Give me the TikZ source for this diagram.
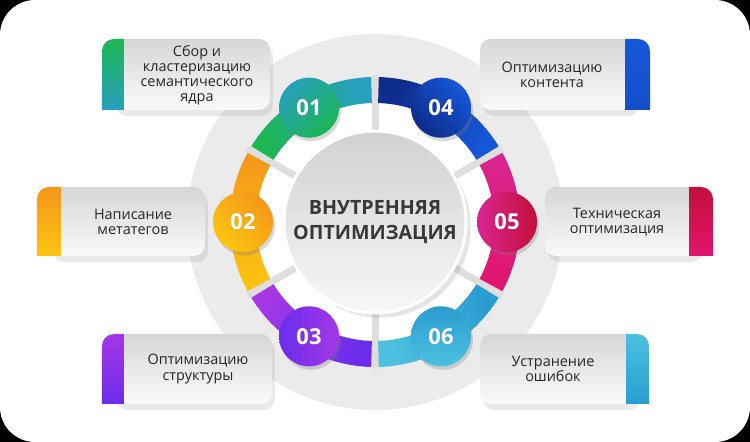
\documentclass[tikz,border=0pt]{standalone}
\usepackage{fontspec}
\setmainfont{Open Sans}
\usetikzlibrary{shadows}

\definecolor{grnA}{HTML}{1CB653}
\definecolor{tealA}{HTML}{26A0BC}
\definecolor{orgA}{HTML}{F4971A}
\definecolor{yelA}{HTML}{FBC510}
\definecolor{purA}{HTML}{A537E6}
\definecolor{vioA}{HTML}{6B2DEB}
\definecolor{bluA}{HTML}{1657DA}
\definecolor{navA}{HTML}{0E2C8A}
\definecolor{pnkA}{HTML}{E0156F}
\definecolor{magA}{HTML}{D9268F}
\definecolor{crmA}{HTML}{C40F3A}
\definecolor{cyaA}{HTML}{4CC0DF}
\definecolor{cyaB}{HTML}{2A9DD0}
\definecolor{txtA}{HTML}{262626}

\begin{document}
\begin{tikzpicture}
		[x=0.02cm, y=0.02cm,
		bubble/.style ={drop shadow={opacity=0.3, shadow xshift=0.4mm, shadow yshift=-0.7mm}},
		card/.style ={rounded corners=0.22cm, top color=black!16, bottom color=black!2, drop shadow={opacity=0.16, shadow xshift=0.6mm, shadow yshift=-1.2mm}},
		num/.style ={font=\fontsize{12.5}{13}\bfseries\selectfont, text=white},
		caption/.style ={align=center, font=\fontsize{8.2}{8.6}\selectfont, text=txtA},
		title/.style ={align=center, font=\fontsize{11.2}{14}\bfseries\selectfont, text=black!78},
		]

		% background
		\fill[black] (-375,-220) rectangle (375,222);
		\fill[white, rounded corners=0.7cm] (-375,-220) rectangle (375,222);
		\fill[black!8] (0,0) circle (188);
		\fill[white, drop shadow={opacity=0.1}] (0,0) circle (121);
		\foreach \d in {30,90,...,330}
			\draw[black!13, line width=0.14cm] (\d:86) -- (\d:147);

		% ring
		\shade[top color=tealA, bottom color=grnA, shading angle=-60] (91.5:145) arc[start angle=91.5, end angle=148.5, radius=145] -- (148.5:119) arc[start angle=148.5, end angle=91.5, radius=119] -- cycle;
		\shade[top color=orgA, bottom color=yelA, shading angle=0] (151.5:145) arc[start angle=151.5, end angle=208.5, radius=145] -- (208.5:119) arc[start angle=208.5, end angle=151.5, radius=119] -- cycle;
		\shade[top color=purA, bottom color=vioA, shading angle=60] (211.5:145) arc[start angle=211.5, end angle=268.5, radius=145] -- (268.5:119) arc[start angle=268.5, end angle=211.5, radius=119] -- cycle;
		\shade[top color=bluA, bottom color=navA, shading angle=-120] (31.5:145) arc[start angle=31.5, end angle=88.5, radius=145] -- (88.5:119) arc[start angle=88.5, end angle=31.5, radius=119] -- cycle;
		\shade[top color=pnkA, bottom color=magA, shading angle=-180] (-28.5:145) arc[start angle=-28.5, end angle=28.5, radius=145] -- (28.5:119) arc[start angle=28.5, end angle=-28.5, radius=119] -- cycle;
		\shade[top color=cyaA, bottom color=cyaB, shading angle=-240] (-88.5:145) arc[start angle=-88.5, end angle=-31.5, radius=145] -- (-31.5:119) arc[start angle=-31.5, end angle=-88.5, radius=119] -- cycle;

		% centre
		\shade[top color=black!18, bottom color=black!3, draw=white, line width=0.06cm, drop shadow={opacity=0.2}] (0,0) circle (91);
		\node[title] (T) at (0,0) {ВНУТРЕННЯЯ\\ОПТИМИЗАЦИЯ};

		% numbers
		\shade[bubble, top color=tealA, bottom color=grnA, shading angle=45] (120:132) circle (30);
		\shade[bubble, top color=orgA, bottom color=yelA, shading angle=-45] (180:132) circle (30);
		\shade[bubble, top color=purA, bottom color=vioA, shading angle=-90] (240:132) circle (30);
		\shade[bubble, top color=bluA, bottom color=navA, shading angle=-45] (60:132) circle (30);
		\shade[bubble, top color=magA, bottom color=crmA, shading angle=90] (0:132) circle (30);
		\shade[bubble, top color=cyaB, bottom color=cyaA, shading angle=0] (-60:132) circle (30);
		\node[num] (n1) at (120:132) {01};
		\node[num] (n2) at (180:132) {02};
		\node[num] (n3) at (240:132) {03};
		\node[num] (n4) at (60:132) {04};
		\node[num] (n5) at (0:132) {05};
		\node[num] (n6) at (-60:132) {06};

		% cards
		\shade[card] (-262,112) rectangle (-105,183);
		\shade[card] (-325,-34) rectangle (-170,35);
		\shade[card] (-262,-182) rectangle (-103,-112);
		\shade[card] (105,112) rectangle (261,183);
		\shade[card] (170,-34) rectangle (325,35);
		\shade[card] (105,-182) rectangle (262,-112);
		\shade[top color=grnA, bottom color=tealA] (-251,112) -- (-273,112) -- (-273,171) arc[start angle=180, end angle=90, radius=12] -- (-251,183) -- cycle;
		\shade[top color=orgA, bottom color=yelA] (-314,-34) -- (-338,-34) -- (-338,23) arc[start angle=180, end angle=90, radius=12] -- (-314,35) -- cycle;
		\shade[top color=purA, bottom color=vioA] (-251,-182) -- (-273,-182) -- (-273,-124) arc[start angle=180, end angle=90, radius=12] -- (-251,-112) -- cycle;
		\shade[top color=bluA, bottom color=bluA!80!navA] (250,112) -- (275,112) -- (275,171) arc[start angle=0, end angle=90, radius=12] -- (250,183) -- cycle;
		\shade[top color=crmA, bottom color=pnkA] (314,-34) -- (338,-34) -- (338,23) arc[start angle=0, end angle=90, radius=12] -- (314,35) -- cycle;
		\shade[top color=cyaA, bottom color=cyaB] (251,-182) -- (274,-182) -- (274,-124) arc[start angle=0, end angle=90, radius=12] -- (251,-112) -- cycle;

		\node[caption] (c1) at (-178,147) {Сбор и\\кластеризацию\\семантического\\ядра};
		\node[caption] (c2) at (-242,0) {Написание\\метатегов};
		\node[caption] (c3) at (-177,-147) {Оптимизацию\\структуры};
		\node[caption] (c4) at (177,147) {Оптимизацию\\контента};
		\node[caption] (c5) at (242,0) {Техническая\\оптимизация};
		\node[caption] (c6) at (178,-147) {Устранение\\ошибок};
	\end{tikzpicture}
\end{document}
